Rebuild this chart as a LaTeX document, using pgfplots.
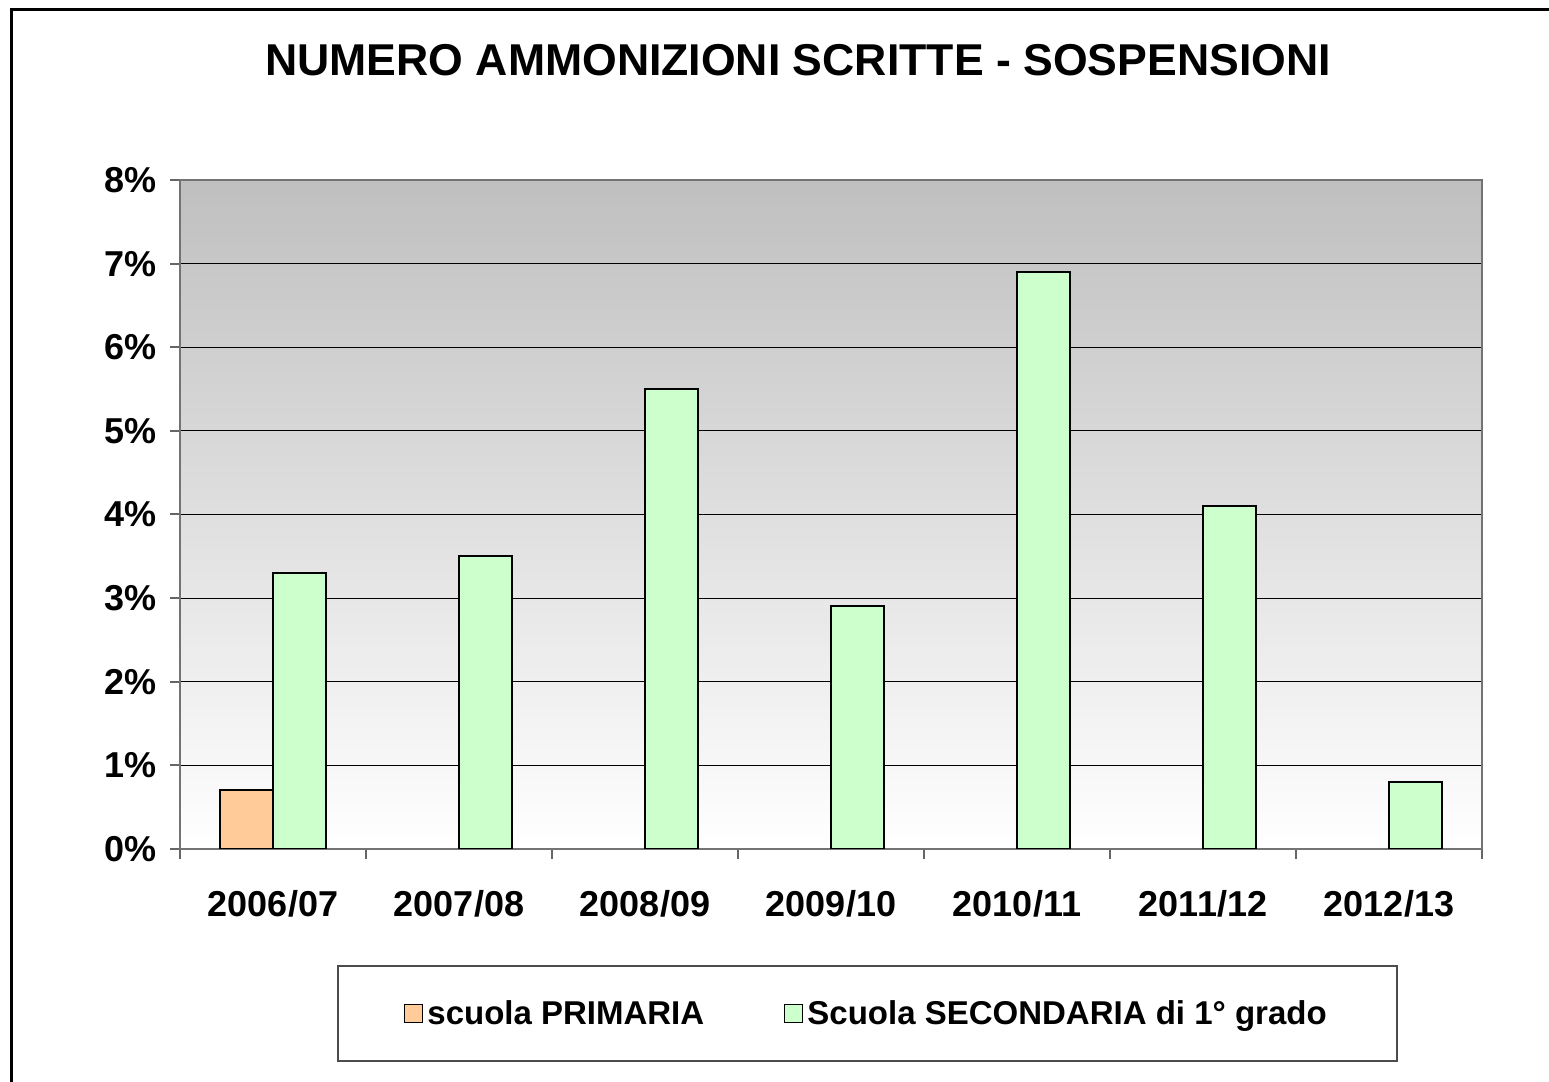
\documentclass[border=0pt]{standalone}
\usepackage{pgfplots}
\pgfplotsset{compat=1.18}
\usepackage{fontspec}
\setmainfont{Liberation Sans}
\definecolor{prim}{HTML}{FFCC99}
\definecolor{sec}{HTML}{CCFFCC}
\begin{document}
\begin{tikzpicture}
\useasboundingbox (0,0) rectangle (774.5bp,541bp);
\draw[line width=1.5bp] (5.5bp,0) -- (5.5bp,536bp) -- (774.5bp,536bp);
\node[font=\bfseries\fontsize{22.3bp}{26bp}\selectfont] at (399bp,511bp) {NUMERO AMMONIZIONI SCRITTE - SOSPENSIONI};
\begin{axis}[
  at={(90bp,116.5bp)}, anchor=south west,
  scale only axis, width=651bp, height=334.5bp,
  xmin=-0.5, xmax=6.5, ymin=0, ymax=8,
  ybar=0pt, bar width=26.5bp,
  axis background/.style={shade, top color=black!25, bottom color=white},
  axis line style={draw=black!55, line width=1bp},
  ymajorgrids, grid style={black, line width=0.6bp},
  ytick={0,1,...,8},
  yticklabels={0\%,1\%,2\%,3\%,4\%,5\%,6\%,7\%,8\%},
  xtick={0,...,6},
  xticklabels={2006/07,2007/08,2008/09,2009/10,2010/11,2011/12,2012/13},
  minor xtick={-0.5,0.5,...,6.5},
  xtick pos=bottom, ytick pos=left,
  major x tick style={draw=none},
  minor x tick style={draw=black!60, line width=1bp},
  y tick style={draw=black!60, line width=1bp},
  tick align=outside, major tick length=5bp, minor tick length=5bp,
  ticklabel style={font=\bfseries\fontsize{18bp}{20bp}\selectfont},
  yticklabel style={xshift=-3bp},
  xticklabel style={yshift=-12bp},
  legend columns=2,
  legend style={at={(0.528,-0.246)}, anchor=center, draw=black!70, line width=0.8bp,
    font=\bfseries\fontsize{16.5bp}{19bp}\selectfont,
    inner xsep=33bp, inner ysep=15bp,
    /tikz/every even column/.append style={column sep=38bp}},
  legend image code/.code={\draw[#1, line width=0.6bp] (0bp,-4.5bp) rectangle (9bp,4.5bp);},
]
\addplot[fill=prim, draw=black, line width=1bp] coordinates {(0,0.7)};
\addplot[fill=sec, draw=black, line width=1bp] coordinates {(0,3.3) (1,3.5) (2,5.5) (3,2.9) (4,6.9) (5,4.1) (6,0.8)};
\legend{scuola PRIMARIA, Scuola SECONDARIA di 1° grado}
\end{axis}
\end{tikzpicture}
\end{document}
